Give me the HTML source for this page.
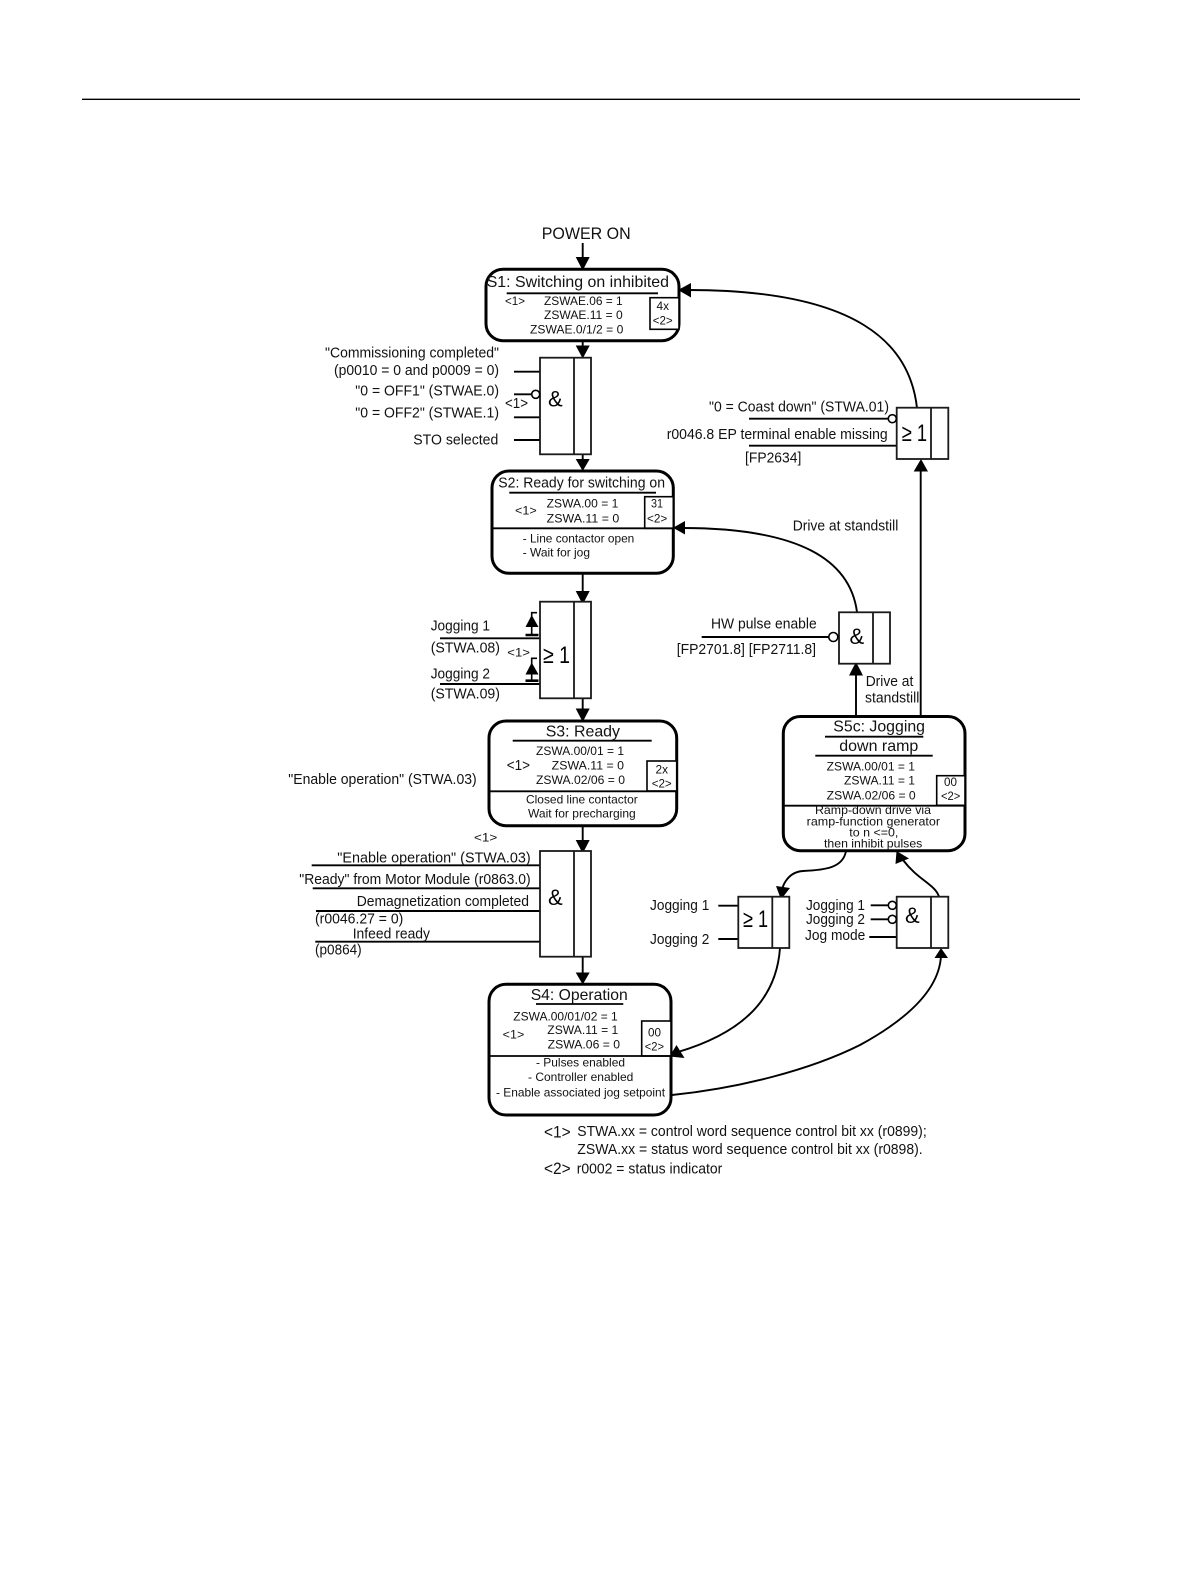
<!DOCTYPE html>
<html><head><meta charset="utf-8"><style>
html,body{margin:0;padding:0;background:#fff}
svg{display:block}
text{font-family:"Liberation Sans",sans-serif;fill:#111}
.s{font-size:12px}.m{font-size:14.5px}.t{font-size:16px}.l{font-size:16.5px}.g{font-size:22px;fill:#000}.ge{font-size:24px;fill:#000}
.st{fill:#fff;stroke:#000;stroke-width:3}
.bx{fill:#fff;stroke:#000;stroke-width:1.6}
.gate{fill:#fff;stroke:#1a1a1a;stroke-width:1.8}
.ln{fill:none;stroke:#000;stroke-width:1.9}
.c{fill:none;stroke:#000;stroke-width:1.9}
.o{fill:#fff;stroke:#000;stroke-width:1.6}
</style></head><body>
<svg width="1191" height="1587" viewBox="0 0 1191 1587" xmlns="http://www.w3.org/2000/svg">
<rect width="1191" height="1587" fill="#fff"/>
<line x1="82" y1="99.3" x2="1080" y2="99.3" stroke="#000" stroke-width="1.4"/>

<!-- connectors -->
<g class="ln">
<path d="M582.7 243V262M582.7 340V350M582.7 454V463M582.7 573V595M582.7 698V712M582.7 825V843M582.7 956V975"/>
<path d="M856 716V672M920.7 716V468"/>
<path d="M514 371.7H540M514 394.3H532M514 417.3H540M514 440H540"/>
<path d="M440 638.3H540M440 684H540"/>
<path d="M311.7 865.3H540M312.7 888.3H540M316 911H540M315.3 941.7H540"/>
<path d="M749 418.7H888M749 445.7H897M701.7 637H829"/>
<path d="M718.3 905.7H738.3M718.3 939H738.3M870.7 905.3H888M870.7 919.3H888M869.3 937H896.7"/>
<path d="M537 612.7H531.7V635M537 658.3H531.7V680.7" stroke-width="1.6"/>
<path d="M525.5 635H538.5M525.5 680.7H538.5" stroke-width="2.6"/>
</g>
<g class="c">
<path d="M917 408C910 345 860 290 688 290"/>
<path d="M857 612C850 560 800 528 682 528"/>
<path d="M846 851C843 868 825 870 803 871C788 872 783 885 782 890"/>
<path d="M780 948C776 1005 735 1035 678 1052"/>
<path d="M672 1095C740 1088 810 1070 860 1045C915 1015 940 985 941 955"/>
<path d="M939 897C936 885 918 880 903 860"/>
</g>
<!-- arrowheads -->
<g fill="#000">
<path d="M582.7 270.5L575.7 257H589.7Z"/>
<path d="M582.7 358.5L575.7 345.5H589.7Z"/>
<path d="M582.7 471L575.7 459H589.7Z"/>
<path d="M582.7 604.5L575.7 591H589.7Z"/>
<path d="M582.7 722L575.7 708.5H589.7Z"/>
<path d="M582.7 853.5L575.7 840H589.7Z"/>
<path d="M582.7 984.5L575.7 972.5H589.7Z"/>
<path d="M678 290L691 283V297.5Z"/>
<path d="M673 527.7L685 521V534.5Z"/>
<path d="M921 459L913.7 471.5H928Z"/>
<path d="M856 662L849 675.5H863Z"/>
<path d="M781 899.5L776 886L790 888Z"/>
<path d="M669.5 1056.5L676.5 1045L684.5 1058Z"/>
<path d="M941 948L934.5 958H948Z"/>
<path d="M896.5 851L895.5 864L909 858.5Z"/>
<path d="M531.7 615L525.5 627H538.5Z"/>
<path d="M531.7 662.5L525.5 674.5H538.5Z"/>
</g>

<!-- S1 -->
<rect class="st" x="486" y="269.3" width="193" height="71.4" rx="17"/>
<line x1="506.7" y1="293.3" x2="658" y2="293.3" stroke="#000" stroke-width="1.8"/>
<rect class="bx" x="650" y="297.7" width="29" height="31.6"/>
<text class="t" x="486.7" y="287" textLength="182.3" lengthAdjust="spacingAndGlyphs">S1: Switching on inhibited</text>
<text class="s" x="505" y="305" textLength="20" lengthAdjust="spacingAndGlyphs">&lt;1&gt;</text>
<text class="s" x="544" y="305" textLength="78.7" lengthAdjust="spacingAndGlyphs">ZSWAE.06 = 1</text>
<text class="s" x="544" y="319" textLength="78.7" lengthAdjust="spacingAndGlyphs">ZSWAE.11 = 0</text>
<text class="s" x="530" y="333.3" textLength="93.3" lengthAdjust="spacingAndGlyphs">ZSWAE.0/1/2 = 0</text>
<text class="s" x="656.5" y="310" textLength="12.5" lengthAdjust="spacingAndGlyphs">4x</text>
<text class="s" x="652.7" y="324.3" textLength="20" lengthAdjust="spacingAndGlyphs">&lt;2&gt;</text>

<!-- AND 1 -->
<rect class="gate" x="540" y="357.7" width="51" height="96.6"/>
<line x1="574" y1="357.7" x2="574" y2="454.3" stroke="#1a1a1a" stroke-width="1.8"/>
<circle class="o" cx="535.7" cy="394.3" r="4"/>
<text class="g" x="548" y="406.7">&amp;</text>
<text class="m" x="325" y="357.3" textLength="174" lengthAdjust="spacingAndGlyphs">"Commissioning completed"</text>
<text class="m" x="334" y="375" textLength="165" lengthAdjust="spacingAndGlyphs">(p0010 = 0 and p0009 = 0)</text>
<text class="m" x="355.3" y="395.3" textLength="143.7" lengthAdjust="spacingAndGlyphs">"0 = OFF1" (STWAE.0)</text>
<text class="m" x="355.3" y="417.7" textLength="143.7" lengthAdjust="spacingAndGlyphs">"0 = OFF2" (STWAE.1)</text>
<text class="m" x="413.3" y="444.3" textLength="85" lengthAdjust="spacingAndGlyphs">STO selected</text>
<text class="m" x="505" y="408" textLength="23" lengthAdjust="spacingAndGlyphs">&lt;1&gt;</text>

<!-- S2 -->
<rect class="st" x="492" y="471" width="181.3" height="102.3" rx="17"/>
<line x1="509.3" y1="492.7" x2="656" y2="492.7" stroke="#000" stroke-width="1.8"/>
<rect class="bx" x="644.7" y="496.7" width="28.6" height="31.6"/>
<line x1="492" y1="528.3" x2="673.3" y2="528.3" stroke="#000" stroke-width="1.8"/>
<text class="m" x="498.3" y="487.3" textLength="166.7" lengthAdjust="spacingAndGlyphs">S2: Ready for switching on</text>
<text class="s" x="515" y="514.3" textLength="21.7" lengthAdjust="spacingAndGlyphs">&lt;1&gt;</text>
<text class="s" x="546.7" y="507.7" textLength="71.6" lengthAdjust="spacingAndGlyphs">ZSWA.00 = 1</text>
<text class="s" x="546.7" y="522.7" textLength="72.6" lengthAdjust="spacingAndGlyphs">ZSWA.11 = 0</text>
<text class="s" x="651" y="507.7" textLength="12" lengthAdjust="spacingAndGlyphs">31</text>
<text class="s" x="647" y="522.7" textLength="20.3" lengthAdjust="spacingAndGlyphs">&lt;2&gt;</text>
<text class="s" x="522.7" y="542.7" textLength="111.6" lengthAdjust="spacingAndGlyphs">- Line contactor open</text>
<text class="s" x="522.7" y="556.7" textLength="67.3" lengthAdjust="spacingAndGlyphs">- Wait for jog</text>

<!-- OR 1 -->
<rect class="gate" x="540" y="601.7" width="51" height="96.6"/>
<line x1="574" y1="601.7" x2="574" y2="698.3" stroke="#1a1a1a" stroke-width="1.8"/>
<text class="ge" x="543" y="663" textLength="27" lengthAdjust="spacingAndGlyphs">≥ 1</text>
<text class="m" x="430.7" y="630.7" textLength="59.3" lengthAdjust="spacingAndGlyphs">Jogging 1</text>
<text class="m" x="430.7" y="652.3" textLength="69.3" lengthAdjust="spacingAndGlyphs">(STWA.08)</text>
<text class="m" x="430.7" y="678.3" textLength="59.3" lengthAdjust="spacingAndGlyphs">Jogging 2</text>
<text class="m" x="430.7" y="698.3" textLength="69.3" lengthAdjust="spacingAndGlyphs">(STWA.09)</text>
<text class="s" x="507.3" y="656.7" textLength="22.7" lengthAdjust="spacingAndGlyphs">&lt;1&gt;</text>

<!-- S3 -->
<rect class="st" x="489" y="721" width="187.7" height="104.7" rx="17"/>
<line x1="512.7" y1="740.7" x2="651.7" y2="740.7" stroke="#000" stroke-width="1.8"/>
<rect class="bx" x="647" y="761" width="29.7" height="30"/>
<line x1="489" y1="791.3" x2="676.7" y2="791.3" stroke="#000" stroke-width="1.8"/>
<text class="t" x="545.7" y="736.7" textLength="74.3" lengthAdjust="spacingAndGlyphs">S3: Ready</text>
<text class="s" x="536" y="755" textLength="88" lengthAdjust="spacingAndGlyphs">ZSWA.00/01 = 1</text>
<text class="s" x="551.7" y="769.3" textLength="72.3" lengthAdjust="spacingAndGlyphs">ZSWA.11 = 0</text>
<text class="s" x="536" y="784" textLength="89" lengthAdjust="spacingAndGlyphs">ZSWA.02/06 = 0</text>
<text class="m" x="506.7" y="770" textLength="23.3" lengthAdjust="spacingAndGlyphs">&lt;1&gt;</text>
<text class="s" x="655.5" y="773.3" textLength="12.5" lengthAdjust="spacingAndGlyphs">2x</text>
<text class="s" x="651.7" y="787.3" textLength="20" lengthAdjust="spacingAndGlyphs">&lt;2&gt;</text>
<text class="s" x="526" y="803.3" textLength="111.7" lengthAdjust="spacingAndGlyphs">Closed line contactor</text>
<text class="s" x="528" y="817.5" textLength="107.7" lengthAdjust="spacingAndGlyphs">Wait for precharging</text>
<text class="m" x="288.3" y="784" textLength="188.4" lengthAdjust="spacingAndGlyphs">"Enable operation" (STWA.03)</text>
<text class="s" x="474" y="841.7" textLength="23.3" lengthAdjust="spacingAndGlyphs">&lt;1&gt;</text>

<!-- AND 2 -->
<rect class="gate" x="540" y="851" width="51" height="105.7"/>
<line x1="574" y1="851" x2="574" y2="956.7" stroke="#1a1a1a" stroke-width="1.8"/>
<text class="g" x="548" y="905">&amp;</text>
<text class="m" x="337.3" y="862.7" textLength="193.4" lengthAdjust="spacingAndGlyphs">"Enable operation" (STWA.03)</text>
<text class="m" x="299.3" y="884" textLength="231.4" lengthAdjust="spacingAndGlyphs">"Ready" from Motor Module (r0863.0)</text>
<text class="m" x="356.7" y="906" textLength="172.3" lengthAdjust="spacingAndGlyphs">Demagnetization completed</text>
<text class="m" x="315" y="923.3" textLength="88.3" lengthAdjust="spacingAndGlyphs">(r0046.27 = 0)</text>
<text class="m" x="352.7" y="938.3" textLength="77.3" lengthAdjust="spacingAndGlyphs">Infeed ready</text>
<text class="m" x="315" y="954.3" textLength="46.7" lengthAdjust="spacingAndGlyphs">(p0864)</text>

<!-- S4 -->
<rect class="st" x="489" y="984.3" width="182" height="130.7" rx="17"/>
<line x1="536" y1="1004" x2="623.3" y2="1004" stroke="#000" stroke-width="1.8"/>
<rect class="bx" x="641.7" y="1021" width="29.3" height="35"/>
<line x1="489" y1="1056" x2="671" y2="1056" stroke="#000" stroke-width="1.8"/>
<text class="t" x="530.7" y="1000" textLength="97" lengthAdjust="spacingAndGlyphs">S4: Operation</text>
<text class="s" x="513.3" y="1020.7" textLength="104.4" lengthAdjust="spacingAndGlyphs">ZSWA.00/01/02 = 1</text>
<text class="s" x="547.3" y="1034" textLength="71" lengthAdjust="spacingAndGlyphs">ZSWA.11 = 1</text>
<text class="s" x="547.7" y="1048.3" textLength="72.3" lengthAdjust="spacingAndGlyphs">ZSWA.06 = 0</text>
<text class="s" x="502.7" y="1038.3" textLength="21.6" lengthAdjust="spacingAndGlyphs">&lt;1&gt;</text>
<text class="s" x="648" y="1036.7" textLength="13" lengthAdjust="spacingAndGlyphs">00</text>
<text class="s" x="644.7" y="1050.7" textLength="19.3" lengthAdjust="spacingAndGlyphs">&lt;2&gt;</text>
<text class="s" x="536" y="1066.7" textLength="89" lengthAdjust="spacingAndGlyphs">- Pulses enabled</text>
<text class="s" x="528" y="1081" textLength="105.3" lengthAdjust="spacingAndGlyphs">- Controller enabled</text>
<text class="s" x="496" y="1096.7" textLength="169" lengthAdjust="spacingAndGlyphs">- Enable associated jog setpoint</text>

<!-- Legend -->
<text class="l" x="544" y="1137.3" textLength="26.7" lengthAdjust="spacingAndGlyphs">&lt;1&gt;</text>
<text class="m" x="577.3" y="1136" textLength="349.4" lengthAdjust="spacingAndGlyphs">STWA.xx = control word sequence control bit xx (r0899);</text>
<text class="m" x="577.3" y="1154" textLength="345.4" lengthAdjust="spacingAndGlyphs">ZSWA.xx = status word sequence control bit xx (r0898).</text>
<text class="l" x="544" y="1174" textLength="26.7" lengthAdjust="spacingAndGlyphs">&lt;2&gt;</text>
<text class="m" x="576.7" y="1173.3" textLength="145.6" lengthAdjust="spacingAndGlyphs">r0002 = status indicator</text>

<!-- POWER ON -->
<text class="l" x="541.7" y="239" textLength="89" lengthAdjust="spacingAndGlyphs">POWER ON</text>

<!-- OR top right -->
<rect class="gate" x="896.7" y="407.7" width="51.6" height="51.3"/>
<line x1="931" y1="407.7" x2="931" y2="459" stroke="#1a1a1a" stroke-width="1.8"/>
<circle class="o" cx="892.3" cy="418.7" r="4"/>
<text class="ge" x="901.7" y="441" textLength="25.3" lengthAdjust="spacingAndGlyphs">≥ 1</text>
<text class="m" x="709" y="411.7" textLength="180" lengthAdjust="spacingAndGlyphs">"0 = Coast down" (STWA.01)</text>
<text class="m" x="666.7" y="439" textLength="221" lengthAdjust="spacingAndGlyphs">r0046.8 EP terminal enable missing</text>
<text class="m" x="745" y="462.7" textLength="56.3" lengthAdjust="spacingAndGlyphs">[FP2634]</text>
<text class="m" x="792.7" y="530.7" textLength="105.6" lengthAdjust="spacingAndGlyphs">Drive at standstill</text>

<!-- AND right -->
<rect class="gate" x="839" y="612.3" width="51" height="51.4"/>
<line x1="873" y1="612.3" x2="873" y2="663.7" stroke="#1a1a1a" stroke-width="1.8"/>
<circle class="o" cx="833.3" cy="637" r="4.5"/>
<text class="g" x="849.5" y="644">&amp;</text>
<text class="m" x="711" y="628.7" textLength="105.7" lengthAdjust="spacingAndGlyphs">HW pulse enable</text>
<text class="m" x="676.7" y="654" textLength="139.3" lengthAdjust="spacingAndGlyphs">[FP2701.8] [FP2711.8]</text>
<text class="m" x="865.7" y="686" textLength="47.6" lengthAdjust="spacingAndGlyphs">Drive at</text>
<text class="m" x="865" y="702.7" textLength="54.3" lengthAdjust="spacingAndGlyphs">standstill</text>

<!-- S5c -->
<rect class="st" x="783.3" y="716.5" width="181.7" height="134.2" rx="17"/>
<line x1="825" y1="736.7" x2="923.3" y2="736.7" stroke="#000" stroke-width="1.8"/>
<line x1="815.3" y1="755.7" x2="932.7" y2="755.7" stroke="#000" stroke-width="1.8"/>
<rect class="bx" x="936.7" y="775.7" width="28.3" height="29.6"/>
<line x1="783.3" y1="805.7" x2="965" y2="805.7" stroke="#000" stroke-width="1.8"/>
<text class="t" x="833.3" y="731.7" textLength="91.7" lengthAdjust="spacingAndGlyphs">S5c: Jogging</text>
<text class="t" x="839.3" y="751" textLength="79" lengthAdjust="spacingAndGlyphs">down ramp</text>
<text class="s" x="826.7" y="770.7" textLength="88.3" lengthAdjust="spacingAndGlyphs">ZSWA.00/01 = 1</text>
<text class="s" x="844" y="784.7" textLength="71" lengthAdjust="spacingAndGlyphs">ZSWA.11 = 1</text>
<text class="s" x="826.7" y="799.3" textLength="89" lengthAdjust="spacingAndGlyphs">ZSWA.02/06 = 0</text>
<text class="s" x="944" y="786" textLength="13" lengthAdjust="spacingAndGlyphs">00</text>
<text class="s" x="941" y="800" textLength="19.3" lengthAdjust="spacingAndGlyphs">&lt;2&gt;</text>
<text class="s" x="815" y="814" textLength="116" lengthAdjust="spacingAndGlyphs">Ramp-down drive via</text>
<text class="s" x="806.7" y="825.7" textLength="133.3" lengthAdjust="spacingAndGlyphs">ramp-function generator</text>
<text class="s" x="849.3" y="836.7" textLength="49" lengthAdjust="spacingAndGlyphs">to n &lt;=0,</text>
<text class="s" x="824" y="847.7" textLength="98.3" lengthAdjust="spacingAndGlyphs">then inhibit pulses</text>

<!-- OR lower -->
<rect class="gate" x="738.3" y="896.7" width="51" height="51.3"/>
<line x1="772.3" y1="896.7" x2="772.3" y2="948" stroke="#1a1a1a" stroke-width="1.8"/>
<text class="ge" x="743" y="927" textLength="25" lengthAdjust="spacingAndGlyphs">≥ 1</text>
<text class="m" x="650" y="910" textLength="59.3" lengthAdjust="spacingAndGlyphs">Jogging 1</text>
<text class="m" x="650" y="944" textLength="59.3" lengthAdjust="spacingAndGlyphs">Jogging 2</text>

<!-- AND lower -->
<rect class="gate" x="896.7" y="896.7" width="51.6" height="51.3"/>
<line x1="931" y1="896.7" x2="931" y2="948" stroke="#1a1a1a" stroke-width="1.8"/>
<circle class="o" cx="892.3" cy="905.3" r="4"/>
<circle class="o" cx="892.3" cy="919.3" r="4"/>
<text class="g" x="905" y="923">&amp;</text>
<text class="m" x="806" y="910" textLength="59" lengthAdjust="spacingAndGlyphs">Jogging 1</text>
<text class="m" x="806" y="924" textLength="59" lengthAdjust="spacingAndGlyphs">Jogging 2</text>
<text class="m" x="805" y="940" textLength="60.3" lengthAdjust="spacingAndGlyphs">Jog mode</text>
</svg>
</body></html>
